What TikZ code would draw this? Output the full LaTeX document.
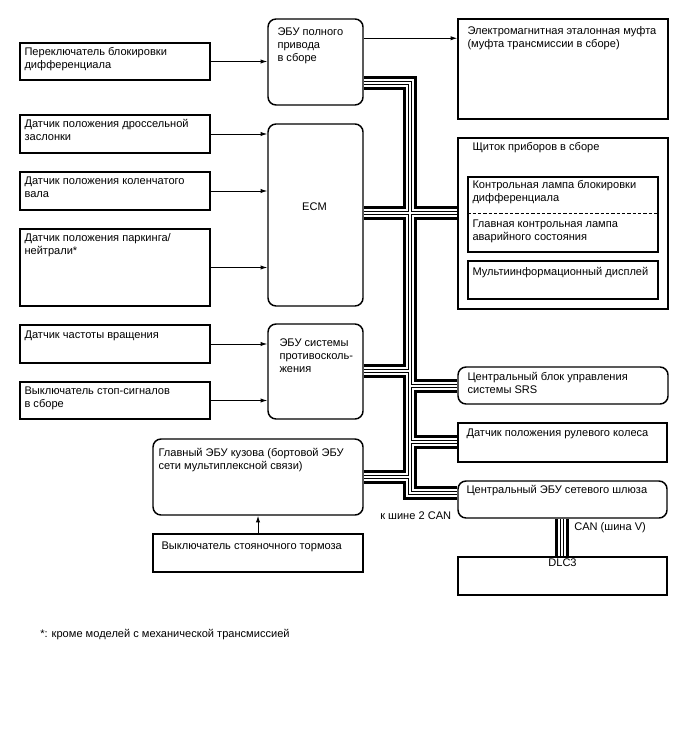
\documentclass[tikz,border=0pt]{standalone}
\usepackage{fontspec}
\setmainfont{Liberation Sans}
\usetikzlibrary{fit,arrows.meta}
\pgfdeclarelayer{bg}
\pgfsetlayers{bg,main}

\begin{document}
\begin{tikzpicture}[x=0.75pt, y=-0.75pt,
    sq/.style={draw, line width=1.1pt, inner sep=0pt},
    rd/.style={sq, rounded corners=6pt},
    txt/.style={anchor=north west, align=left, inner sep=0pt, font=\fontsize{8.3}{9.8}\selectfont},
    arr/.style={-{Latex[length=5pt,width=3.2pt]}, line width=0.65pt}]
\useasboundingbox (0,0) rectangle (688,755);

% inputs on the left
\node[sq, fit={(20,43) (210,80)}] (difsw) {};
\node[txt] (difsw-t) at ([shift={(5,5)}]difsw.north west) {Переключатель блокировки\\дифференциала};
\node[sq, fit={(20,115) (210,153)}] (thr) {};
\node[txt] (thr-t) at ([shift={(5,5)}]thr.north west) {Датчик положения дроссельной\\заслонки};
\node[sq, fit={(20,172) (210,210)}] (crank) {};
\node[txt] (crank-t) at ([shift={(5,5)}]crank.north west) {Датчик положения коленчатого\\вала};
\node[sq, fit={(20,229) (210,306)}] (park) {};
\node[txt] (park-t) at ([shift={(5,5)}]park.north west) {Датчик положения паркинга/\\нейтрали*};
\node[sq, fit={(20,325) (210,363)}] (spd) {};
\node[txt] (spd-t) at ([shift={(5,6)}]spd.north west) {Датчик частоты вращения};
\node[sq, fit={(20,382) (210,419)}] (stop) {};
\node[txt] (stop-t) at ([shift={(5,5)}]stop.north west) {Выключатель стоп-сигналов\\в сборе};

% ECUs in the middle
\node[rd, fit={(268,19) (363,105)}] (awd) {};
\node[txt] (awd-t) at ([shift={(10,9)}]awd.north west) {ЭБУ полного\\привода\\в сборе};
\node[rd, fit={(268,124) (363,306)}] (ecm) {};
\node[txt, anchor=center] (ecm-t) at ([shift={(-1,-8)}]ecm.center) {ECM};
\node[rd, fit={(268,324) (363,419)}] (abs) {};
\node[txt] (abs-t) at ([shift={(12,15)}]abs.north west) {ЭБУ системы\\противосколь-\\жения};
\node[rd, fit={(153,439) (363,515)}] (body) {};
\node[txt] (body-t) at ([shift={(6,10)}]body.north west) {Главный ЭБУ кузова (бортовой ЭБУ\\сети мультиплексной связи)};
\node[sq, fit={(153,534) (363,572)}] (pbrk) {};
\node[txt] (pbrk-t) at ([shift={(9,8)}]pbrk.north west) {Выключатель стояночного тормоза};

% right column
\node[sq, fit={(458,19) (668,119)}] (cpl) {};
\node[txt] (cpl-t) at ([shift={(10,8)}]cpl.north west) {Электромагнитная эталонная муфта\\(муфта трансмиссии в сборе)};
\node[sq, fit={(458,138) (668,309)}] (cl) {};
\node[txt] (cl-t) at ([shift={(15,5)}]cl.north west) {Щиток приборов в сборе};
\node[sq, fit={(468,177) (658,252)}] (lamp) {};
\node[txt] (lamp-t) at ([shift={(5,4)}]lamp.north west) {Контрольная лампа блокировки\\дифференциала};
\draw[dashed, line width=0.9pt, dash pattern=on 2.5pt off 1.5pt]
    ([shift={(0,37)}]lamp.north west) -- ([shift={(0,37)}]lamp.north east);
\node[txt] (warn-t) at ([shift={(5,43)}]lamp.north west) {Главная контрольная лампа\\аварийного состояния};
\node[sq, fit={(468,261) (658,299)}] (mid) {};
\node[txt] (mid-t) at ([shift={(5,7)}]mid.north west) {Мультиинформационный дисплей};
\node[rd, fit={(458,367) (668,404)}] (srs) {};
\node[txt] (srs-t) at ([shift={(10,6)}]srs.north west) {Центральный блок управления\\системы SRS};
\node[sq, fit={(458,423) (667,462)}] (steer) {};
\node[txt] (steer-t) at ([shift={(9,6)}]steer.north west) {Датчик положения рулевого колеса};
\node[rd, fit={(458,481) (667,518)}] (gw) {};
\node[txt] (gw-t) at ([shift={(9,5)}]gw.north west) {Центральный ЭБУ сетевого шлюза};
\node[sq, fit={(458,557) (667,595)}] (dlc) {};
\node[txt, anchor=north] (dlc-t) at ([shift={(0,2)}]dlc.north) {DLC3};

% signal wires
\draw[arr] (difsw.east) -- (difsw.east -| awd.west);
\draw[arr] (thr.east) -- (thr.east -| ecm.west);
\draw[arr] (crank.east) -- (crank.east -| ecm.west);
\draw[arr] (park.east) -- (park.east -| ecm.west);
\draw[arr] (spd.east) -- (spd.east -| abs.west);
\draw[arr] (stop.east) -- (stop.east -| abs.west);
\draw[arr] ([shift={(0,20)}]awd.north east) -- ([shift={(0,20)}]cpl.north west);
\draw[arr] (pbrk.north) -- (body.south);

% CAN bus
\coordinate (bt) at (410,83);
\coordinate (bb) at (410,493);
\coordinate (j1) at (410,213);
\coordinate (j2) at (410,371);
\coordinate (j3) at (410,386);
\coordinate (j4) at (410,442);
\coordinate (j5) at (410,477);
\coordinate (jv) at (562,537);
\begin{pgfonlayer}{bg}
\foreach \w/\c in {10.5pt/black, 6pt/white, 3pt/black, 1.4pt/white}
  \draw[line width=\w, draw=\c]
    (awd.east |- bt) -- (bt) -- (bb) -- (gw.west |- bb)
    (ecm.east |- j1) -- (cl.west |- j1)
    (abs.east |- j2) -- (j2)
    (j3) -- (srs.west |- j3)
    (j4) -- (steer.west |- j4)
    (body.east |- j5) -- (j5)
    (gw.south -| jv) -- (dlc.north -| jv);
\end{pgfonlayer}
\node[txt, anchor=west] (can2-t) at (380,516) {к шине 2 CAN};
\node[txt, anchor=west] (canv-t) at (574,528) {CAN (шина V)};

% footnote
\node[txt, anchor=west] (note) at (40,635) {*: кроме моделей с механической трансмиссией};
\end{tikzpicture}
\end{document}
